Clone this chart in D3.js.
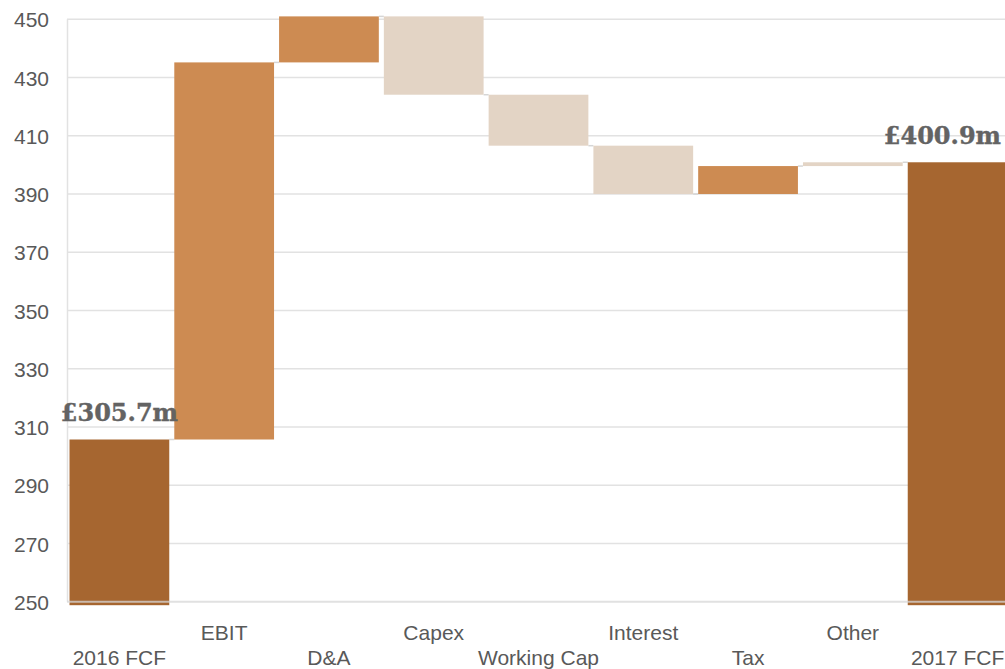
<!DOCTYPE html>
<html>
<head>
<meta charset="utf-8">
<script src="https://cdn.jsdelivr.net/npm/d3@7"></script>
<style>
  html, body { margin: 0; padding: 0; background: #ffffff; }
  svg { display: block; }
</style>
</head>
<body>
<svg id="chart" width="1005" height="669"></svg>
<script>
// Free cash flow bridge, 2016 → 2017 (£m)
const categories = ["2016 FCF", "EBIT", "D&A", "Capex", "Working Cap", "Interest", "Tax", "Other", "2017 FCF"];
const openingFcf = 305.7;
const stepChanges = [129.5, 15.8, -26.9, -17.5, -16.6, 9.6, 1.3]; // EBIT … Other
const closingFcf = 400.9;
const yTicks = [250, 270, 290, 310, 330, 350, 370, 390, 410, 430, 450];
const totalLabels = ["£305.7m", "£400.9m"];

const W = 1005, H = 669;
const svg = d3.select("#chart");

// Build floating segments from the running total
const rows = [];
rows.push({ cat: categories[0], start: null, end: openingFcf, total: true });
let running = openingFcf;
stepChanges.forEach((d, i) => {
  rows.push({ cat: categories[i + 1], start: running, end: running + d, total: false });
  running += d;
});
rows.push({ cat: categories[categories.length - 1], start: null, end: closingFcf, total: true });

const x = d3.scaleBand()
  .domain(categories)
  .range([67, 1010])
  .paddingInner(0.048)
  .paddingOuter(0.024);

const y = d3.scaleLinear()
  .domain([250, 450])
  .range([601.7, 19.3]);

const tone = d3.scaleOrdinal()
  .domain(categories)
  .range(["#a66630", "#cd8b52", "#cd8b52", "#e3d4c5", "#e3d4c5", "#e3d4c5", "#cd8b52", "#e3d4c5", "#a66630"]);

const gridColor = "#e2e2e2";
const textColor = "#595959";

// Horizontal gridlines (all but the baseline, which is drawn over the bars)
svg.append("g")
  .selectAll("line")
  .data(yTicks.filter(t => t !== 250))
  .join("line")
  .attr("x1", 67).attr("x2", W)
  .attr("y1", d => y(d)).attr("y2", d => y(d))
  .attr("stroke", gridColor)
  .attr("stroke-width", 1.5);

// Left axis line
svg.append("line")
  .attr("x1", 67.5).attr("x2", 67.5)
  .attr("y1", y(450)).attr("y2", y(250))
  .attr("stroke", gridColor)
  .attr("stroke-width", 1.5);

// Y axis labels
const yAxis = d3.axisLeft(y).tickValues(yTicks).tickSize(0).tickPadding(0);
const yG = svg.append("g")
  .attr("transform", "translate(49,0)")
  .call(yAxis);
yG.select(".domain").remove();
yG.selectAll("text")
  .attr("font-family", "'Liberation Sans', Arial, sans-serif")
  .attr("font-size", 21)
  .attr("fill", textColor)
  .attr("dy", "0.36em");

// Connectors between consecutive bars
const bw = x.bandwidth();
svg.append("g")
  .selectAll("line")
  .data(rows.slice(0, -1))
  .join("line")
  .attr("x1", d => x(d.cat) + bw)
  .attr("x2", (d, i) => x(rows[i + 1].cat))
  .attr("y1", d => y(d.end))
  .attr("y2", d => y(d.end))
  .attr("stroke", "#d6d6d6")
  .attr("stroke-width", 1.5);

// Bars
svg.append("g")
  .selectAll("rect")
  .data(rows)
  .join("rect")
  .attr("x", d => x(d.cat))
  .attr("width", bw)
  .attr("y", d => d.total ? y(d.end) : y(Math.max(d.start, d.end)))
  .attr("height", d => d.total
    ? (y(250) + 3.5) - y(d.end)
    : Math.abs(y(d.start) - y(d.end)))
  .attr("fill", d => tone(d.cat));

// Baseline drawn over the bars
svg.append("line")
  .attr("x1", 67).attr("x2", W)
  .attr("y1", y(250)).attr("y2", y(250))
  .attr("stroke", "rgba(215,215,215,0.75)")
  .attr("stroke-width", 2);

// Category labels, alternating between two rows
svg.append("g")
  .selectAll("text")
  .data(categories)
  .join("text")
  .attr("x", d => x(d) + bw / 2)
  .attr("y", (d, i) => i % 2 === 1 ? 640 : 664.5)
  .attr("text-anchor", "middle")
  .attr("font-family", "'Liberation Sans', Arial, sans-serif")
  .attr("font-size", 21)
  .attr("fill", textColor)
  .text(d => d);

// Value labels above the two totals
const totals = rows.filter(r => r.total);
svg.append("g")
  .selectAll("text")
  .data(totals)
  .join("text")
  .attr("y", d => y(d.end) - 18.5)
  .attr("text-anchor", "middle")
  .attr("font-family", "'DejaVu Serif', serif")
  .attr("font-weight", "bold")
  .attr("font-size", 24)
  .attr("fill", "#636363")
  .attr("stroke", "#636363")
  .attr("stroke-width", 0.4)
  .text((d, i) => totalLabels[i])
  .each(function (d) {
    const t = d3.select(this);
    const w = this.getComputedTextLength();
    let cx = x(d.cat) + bw / 2;
    cx = Math.min(cx, W - 4 - w / 2);
    t.attr("x", cx);
  });
</script>
</body>
</html>
